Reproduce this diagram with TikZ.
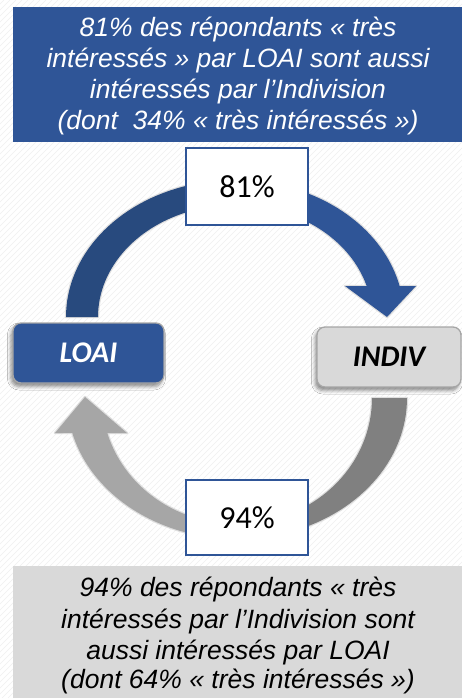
\documentclass[tikz,border=0pt]{standalone}
\usepackage{fontspec}
\setmainfont{Liberation Sans}
\newfontfamily\calib{Carlito}
\usetikzlibrary{shadows.blur}

\definecolor{boxblue}{HTML}{2F5597}
\definecolor{darkblue}{HTML}{284A7E}
\definecolor{paleg}{HTML}{D9D9D9}
\definecolor{midgrey}{HTML}{A6A6A6}
\definecolor{darkgrey}{HTML}{808080}

\begin{document}
\begin{tikzpicture}[x=1pt,y=-1pt,
  hatch/.style={draw=black!6, line width=0.6pt},
  glow/.style={draw=black!13, line width=2.4pt, line join=round},
  capbox/.style={inner sep=0pt, outer sep=0pt},
  captext/.style={font=\fontsize{26.5}{31}\selectfont\itshape, anchor=base, inner sep=0pt},
  keybox/.style={rounded corners=8pt, draw=black!35, line width=1.3pt,
    minimum height=60pt, inner sep=0pt,
    font=\calib\bfseries\itshape\fontsize{30}{34}\selectfont,
    blur shadow={shadow xshift=-2pt, shadow yshift=-3.5pt, shadow blur radius=3.5pt, shadow opacity=45}},
  pctbox/.style={draw=boxblue, line width=1.5pt, fill=white, minimum width=122pt,
    inner sep=0pt, font=\calib\fontsize{32}{36}\selectfont},
]
\useasboundingbox (0,0) rectangle (462,698);
\fill[white] (0,0) rectangle (462,698);

% faint diagonal hatching in the background
\begin{scope}
  \clip (0,0) rectangle (462,698);
  \foreach \k in {-700,-694,...,466}
    \draw[hatch] (\k,698) -- (\k+698,0);
\end{scope}

% upper curved arrow: LOAI -> INDIV
\draw[glow]
  plot[domain=180:13.08, samples=80] ({235+169*cos(\x)},{317-137*sin(\x)})
  -- (416,286) -- (387,317) -- (345,286)
  -- plot[domain=16.07:180, samples=80] ({235+137*cos(\x)},{317-112*sin(\x)})
  -- cycle;
\fill[darkblue]
  plot[domain=180:90, samples=40] ({235+169*cos(\x)},{317-137*sin(\x)})
  -- plot[domain=90:180, samples=40] ({235+137*cos(\x)},{317-112*sin(\x)})
  -- cycle;
\fill[boxblue]
  plot[domain=90:13.08, samples=40] ({235+169*cos(\x)},{317-137*sin(\x)})
  -- (416,286) -- (387,317) -- (345,286)
  -- plot[domain=16.07:90, samples=40] ({235+137*cos(\x)},{317-112*sin(\x)})
  -- cycle;

% lower curved arrow: INDIV -> LOAI
\draw[glow]
  plot[domain=0:-165.63, samples=80] ({237+170*cos(\x)},{398-141*sin(\x)})
  -- (55,433) -- (85,397) -- (127,433)
  -- plot[domain=-163.87:0, samples=80] ({237+135*cos(\x)},{398-126*sin(\x)})
  -- cycle;
\fill[darkgrey]
  plot[domain=0:-90, samples=40] ({237+170*cos(\x)},{398-141*sin(\x)})
  -- plot[domain=-90:0, samples=40] ({237+135*cos(\x)},{398-126*sin(\x)})
  -- cycle;
\fill[midgrey]
  plot[domain=-90:-165.63, samples=40] ({237+170*cos(\x)},{398-141*sin(\x)})
  -- (55,433) -- (85,397) -- (127,433)
  -- plot[domain=-163.87:-90, samples=40] ({237+135*cos(\x)},{398-126*sin(\x)})
  -- cycle;

% caption boxes
\node[capbox, fill=boxblue, minimum width=449pt, minimum height=135pt] (topbox) at (237.5,74.5) {};
\node[captext, text=white] (t1) at (238,37)  {81\% des répondants « très};
\node[captext, text=white] (t2) at (238,68)  {intéressés » par LOAI sont aussi};
\node[captext, text=white] (t3) at (238,99)  {intéressés par l’Indivision};
\node[captext, text=white] (t4) at (238,129) {(dont~ 34\% « très intéressés »)};

\node[capbox, fill=paleg, minimum width=449pt, minimum height=134pt] (botbox) at (237.5,633) {};
\node[captext, text=black] (b1) at (238,596) {94\% des répondants « très};
\node[captext, text=black] (b2) at (238,628) {intéressés par l’Indivision sont};
\node[captext, text=black] (b3) at (238,659) {aussi intéressés par LOAI};
\node[captext, text=black] (b4) at (238,688) {(dont 64\% « très intéressés »)};

% the two key boxes
\node[keybox, fill=boxblue, text=white, minimum width=151pt] (loai) at (88.5,353) {LOAI};
\node[keybox, fill=paleg, text=black, minimum width=144pt] (indiv) at (389,357) {INDIV};

% percentage boxes on the arrows
\node[pctbox, minimum height=77pt] (p81) at (247,186.5) {81\%};
\node[pctbox, minimum height=75pt] (p94) at (247,517.5) {94\%};
\end{tikzpicture}
\end{document}
